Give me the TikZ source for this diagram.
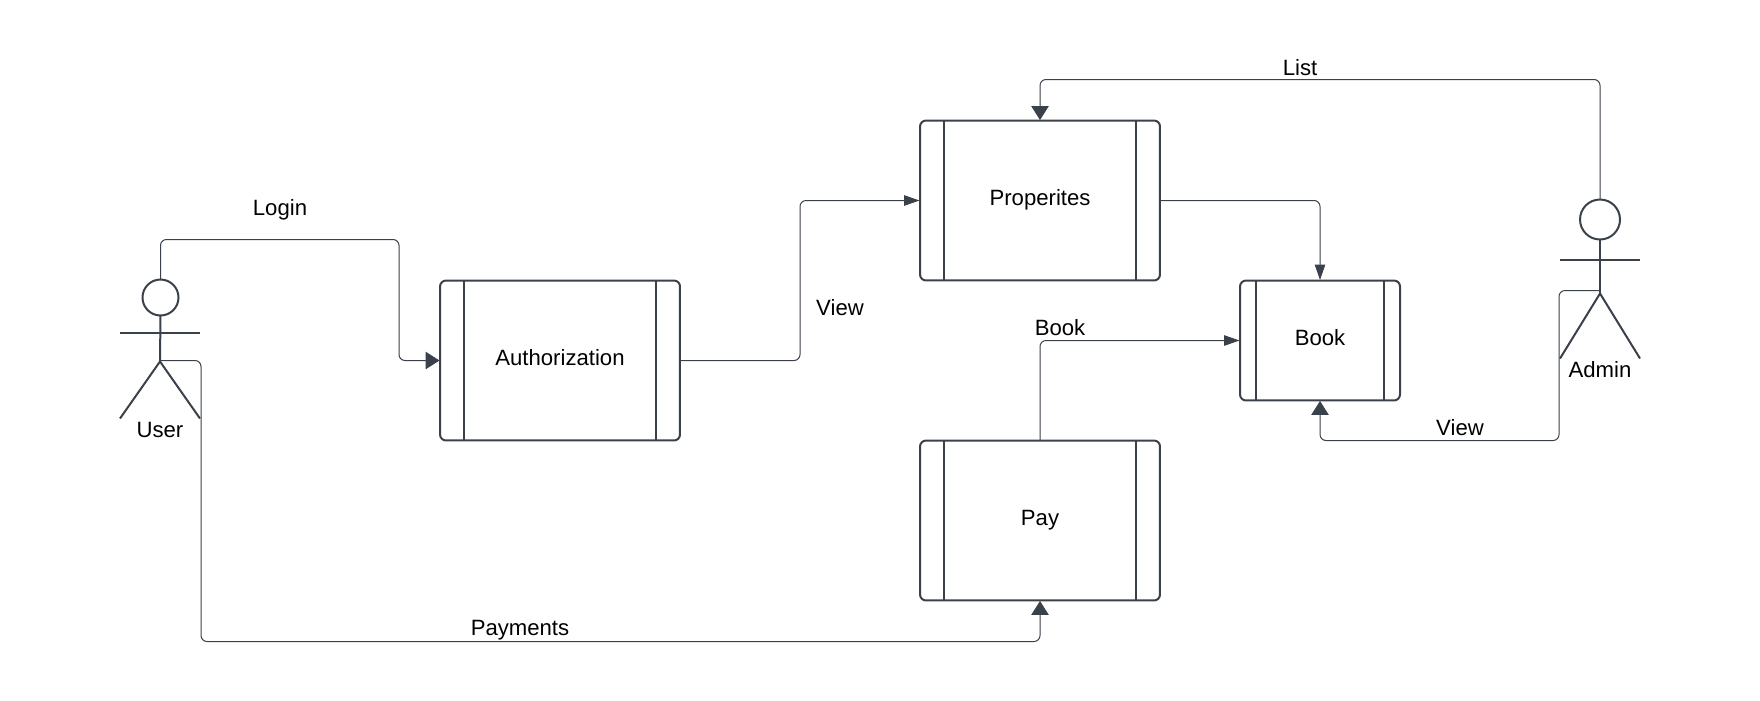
\documentclass[tikz,border=0pt]{standalone}
\usepackage{fontspec}
\setmainfont{Liberation Sans}
\usetikzlibrary{arrows.meta}
\usetikzlibrary{calc}
\definecolor{inkdark}{HTML}{3A414A}

\tikzset{
  procbox/.style={draw=inkdark, line width=0.04cm, rounded corners=0.12cm, inner sep=0, outer sep=0,
    minimum width=4.8cm, minimum height=3.2cm, text height=0.23cm, text depth=0.04cm,
    font=\fontsize{12.6pt}{15pt}\selectfont, text=black},
  bookbox/.style={procbox, minimum width=3.2cm, minimum height=2.4cm},
  bar/.style={draw=inkdark, line width=0.04cm},
  head/.style={circle, draw=inkdark, line width=0.04cm, inner sep=0, outer sep=0},
  lbl/.style={anchor=base, inner sep=0, font=\fontsize{12.6pt}{15pt}\selectfont, text=black},
  conn/.style={draw=inkdark, line width=0.02cm, rounded corners=0.12cm, shorten >=0.01cm},
  bigtip/.style={-{Triangle[length=0.28cm, width=0.35cm]}},
  smalltip/.style={-{Triangle[length=0.31cm, width=0.21cm]}}
}

\begin{document}
\begin{tikzpicture}[x=0.02cm, y=-0.02cm]
\useasboundingbox (0,-0.5) rectangle (1760,699.5);

% boxes
\node[procbox] (auth) at (560,360) {Authorization};
\node[procbox] (props) at (1040,200) {Properites};
\node[procbox] (pay) at (1040,520) {Pay};
\node[bookbox] (book) at (1320,340) {Book};

\draw[bar] ($(auth.north west)+(24,0)$) -- ($(auth.south west)+(24,0)$);
\draw[bar] ($(auth.north east)+(-24,0)$) -- ($(auth.south east)+(-24,0)$);
\draw[bar] ($(props.north west)+(24,0)$) -- ($(props.south west)+(24,0)$);
\draw[bar] ($(props.north east)+(-24,0)$) -- ($(props.south east)+(-24,0)$);
\draw[bar] ($(pay.north west)+(24,0)$) -- ($(pay.south west)+(24,0)$);
\draw[bar] ($(pay.north east)+(-24,0)$) -- ($(pay.south east)+(-24,0)$);
\draw[bar] ($(book.north west)+(16,0)$) -- ($(book.south west)+(16,0)$);
\draw[bar] ($(book.north east)+(-16,0)$) -- ($(book.south east)+(-16,0)$);

% user
\node[head, minimum size=0.72cm] (userhead) at (160.5,297) {};
\coordinate (userhip) at (160,361);
\draw[bar] (userhead.south) -- (userhip);
\draw[bar] (120,332) -- (200,332);
\draw[bar] (120,418) -- (userhip) -- (200,418);
\node[lbl] (userlbl) at (160,436.5) {User};

% admin
\node[head, minimum size=0.8cm] (adminhead) at (1600,219) {};
\coordinate (adminhip) at (1600,293);
\draw[bar] (adminhead.south) -- (adminhip);
\draw[bar] (1560,259) -- (1640,259);
\draw[bar] (1560,358) -- (adminhip) -- (1640,358);
\node[lbl] (adminlbl) at (1600,376.5) {Admin};

% connectors
\draw[conn, bigtip] (userhead.north) |- (399,239) |- (auth.west);
\draw[conn, smalltip] (auth.east) -| (800,200) -- (props.west);
\draw[conn, smalltip] (props.east) -| (book.north);
\draw[conn, smalltip] (pay.north) |- (book.west);
\draw[conn, bigtip] (160,360) -| (201,641) -| (pay.south);
\draw[conn, bigtip] (1600,290) -| (1559,440) -| (book.south);
\draw[conn, bigtip] (adminhead.north) |- (1040,79) -- (props.north);

\node[lbl] (loginlbl) at (280,215) {Login};
\node[lbl] (viewlbl) at (840,315) {View};
\node[lbl] (booklbl) at (1060,335) {Book};
\node[lbl] (paylbl) at (520,635) {Payments};
\node[lbl] (viewadminlbl) at (1460,435) {View};
\node[lbl] (listlbl) at (1300,74.5) {List};
\end{tikzpicture}
\end{document}
